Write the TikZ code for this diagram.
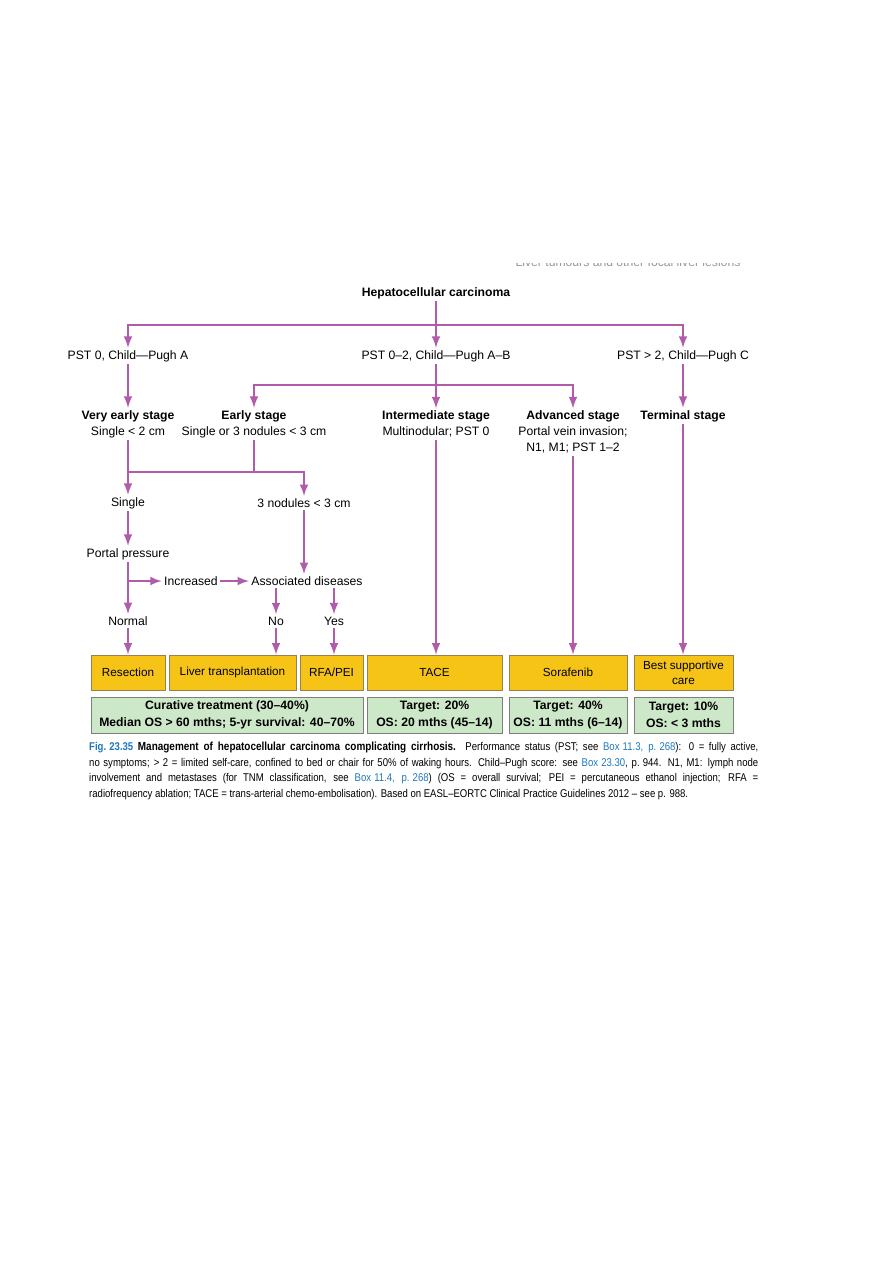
\documentclass[tikz,border=0pt]{standalone}
\usepackage{fontspec}
\setmainfont{Liberation Sans}
\newfontfamily\capfont[FakeStretch=0.85]{Liberation Sans}
\usetikzlibrary{arrows, positioning}
\definecolor{hccpurple}{RGB}{176,92,170}
\definecolor{boxorange}{RGB}{246,196,22}
\definecolor{boxorangeline}{RGB}{150,130,80}
\definecolor{boxgreen}{RGB}{205,232,200}
\definecolor{boxgreenline}{RGB}{120,130,120}
\definecolor{capblue}{RGB}{30,120,190}
\definecolor{headgray}{RGB}{150,150,150}
\newcommand{\capline}[1]{\makebox[20.07cm][s]{#1}}
\newcommand{\fsp}{\kern0.28em}

\begin{document}
\begin{tikzpicture}[x=0.03cm, y=-0.03cm,
    lbl/.style={inner sep=2pt, align=center, font=\fontsize{10.4}{13.6}\selectfont},
    conn/.style={draw=hccpurple, line width=2.3pt},
    arr/.style={conn, -latex},
    treat/.style={rectangle, draw=boxorangeline, fill=boxorange, line width=0.8pt, minimum height=1.05cm, inner sep=1pt, align=center, font=\fontsize{10}{12.5}\selectfont},
    outc/.style={rectangle, draw=boxgreenline, fill=boxgreen, line width=0.8pt, minimum height=1.08cm, inner sep=1pt, align=center, font=\fontsize{10.4}{14}\selectfont\bfseries}]
    \fill[white] (0,0) rectangle (893,1263);
    \useasboundingbox (0,0) rectangle (893,1263);

    % running head, cut at the top
    \begin{scope}
        \clip (480,263) rectangle (780,280);
        \node[lbl, text=headgray] (runhead) at (628,262) {Liver tumours and other focal liver lesions};
    \end{scope}

    \node[lbl, font=\fontsize{10.4}{13.6}\selectfont\bfseries] (hcc) at (436,293) {Hepatocellular carcinoma};
    \node[lbl] (pst0) at (128,356) {PST 0, Child—Pugh A};
    \node[lbl] (pst02) at (436,356) {PST 0–2, Child—Pugh A–B};
    \node[lbl] (pstc) at (683,356) {PST > 2, Child—Pugh C};

    \node[lbl] (vearly) at (128,424) {\textbf{Very early stage}\\Single < 2 cm};
    \node[lbl] (early) at (254,424) {\textbf{Early stage}\\Single or 3 nodules < 3 cm};
    \node[lbl] (inter) at (436,424) {\textbf{Intermediate stage}\\Multinodular; PST 0};
    \node[lbl] (adv) at (573,432) {\textbf{Advanced stage}\\Portal vein invasion;\\N1, M1; PST 1–2};
    \node[lbl] (term) at (683,416) {\textbf{Terminal stage}};

    \node[lbl] (single) at (128,503) {Single};
    \node[lbl] (nod3) at (304,503) {3 nodules < 3 cm};
    \node[lbl] (portal) at (128,554) {Portal pressure};
    \node[lbl] (incr) at (191,581) {Increased};
    \node[lbl] (assoc) at (307,581) {Associated diseases};
    \node[lbl] (normal) at (128,621) {Normal};
    \node[lbl] (no) at (276,621) {No};
    \node[lbl] (yes) at (334,621) {Yes};

    % treatments
    \node[treat, minimum width=2.22cm] (resec) at (128,672.5) {Resection};
    \node[treat, minimum width=3.81cm] (lt) at (232.5,672.5) {Liver transplantation};
    \node[treat, minimum width=1.89cm] (rfa) at (331.5,672.5) {RFA/PEI};
    \node[treat, minimum width=4.05cm] (tace) at (434.5,672.5) {TACE};
    \node[treat, minimum width=3.54cm] (sora) at (568,672.5) {Sorafenib};
    \node[treat, minimum width=2.97cm] (bsc) at (683.5,672.5) {Best supportive\\care};

    % outcomes
    \node[outc, minimum width=8.16cm] (cur) at (227,715) {Curative treatment (30–40\%)\\Median OS > 60 mths; 5-yr survival: 40–70\%};
    \node[outc, minimum width=4.05cm] (tgt20) at (434.5,715) {Target: 20\%\\OS: 20 mths (45–14)};
    \node[outc, minimum width=3.54cm] (tgt40) at (568,715) {Target: 40\%\\OS: 11 mths (6–14)};
    \node[outc, minimum width=2.97cm] (tgt10) at (683.5,715) {Target: 10\%\\OS: < 3 mths};

    % connectors
    \coordinate (j1) at (436,325);
    \coordinate (j2) at (436,385);
    \coordinate (j3) at (254,472);
    \draw[arr] (hcc) -- (pst02);
    \draw[arr] (j1) -| (pst0);
    \draw[arr] (j1) -| (pstc);
    \draw[arr] (pst0) -- (vearly);
    \draw[arr] (pst02) -- (inter);
    \draw[arr] (j2) -| (early);
    \draw[arr] (j2) -| (adv);
    \draw[arr] (pstc) -- (term);

    \draw[conn] (early) -- (j3);
    \draw[arr] (vearly) -- (single);
    \draw[arr] (vearly.south |- j3) -| (nod3);
    \draw[arr] (single) -- (portal);
    \draw[arr] (portal) -- (normal);
    \draw[arr] (portal.south |- incr) -- (incr);
    \draw[arr] (incr) -- (assoc);
    \draw[arr] (nod3) -- (nod3 |- assoc.north);
    \draw[arr] (no |- assoc.south) -- (no);
    \draw[arr] (yes |- assoc.south) -- (yes);

    \draw[arr] (normal) -- (normal |- resec.north);
    \draw[arr] (no) -- (no |- lt.north);
    \draw[arr] (yes) -- (yes |- rfa.north);
    \draw[arr] (inter) -- (inter |- tace.north);
    \draw[arr] (adv) -- (adv |- sora.north);
    \draw[arr] (term) -- (term |- bsc.north);

    % caption
    \node[anchor=north west, inner sep=0pt, align=left, font=\capfont\fontsize{9.6}{13.2}\selectfont] (caption) at (89,742) {%
        \capline{\textcolor{capblue}{\textbf{Fig.\fsp23.35}} \textbf{\fontsize{10}{13.2}\selectfont Management of hepatocellular carcinoma complicating cirrhosis.} Performance status (PST; see \textcolor{capblue}{Box\fsp11.3, p.\fsp268}): 0 = fully active,}\\
        \capline{no symptoms; > 2 = limited self-care, confined to bed or chair for 50\% of waking hours. Child–Pugh score: see \textcolor{capblue}{Box\fsp23.30}, p.\fsp944. N1, M1: lymph node}\\
        \capline{involvement and metastases (for TNM classification, see \textcolor{capblue}{Box\fsp11.4, p.\fsp268}) (OS = overall survival; PEI = percutaneous ethanol injection; RFA =}\\
        radiofrequency ablation; TACE = trans-arterial chemo-embolisation). Based on EASL–EORTC Clinical Practice Guidelines 2012 – see p. 988.};
\end{tikzpicture}
\end{document}
